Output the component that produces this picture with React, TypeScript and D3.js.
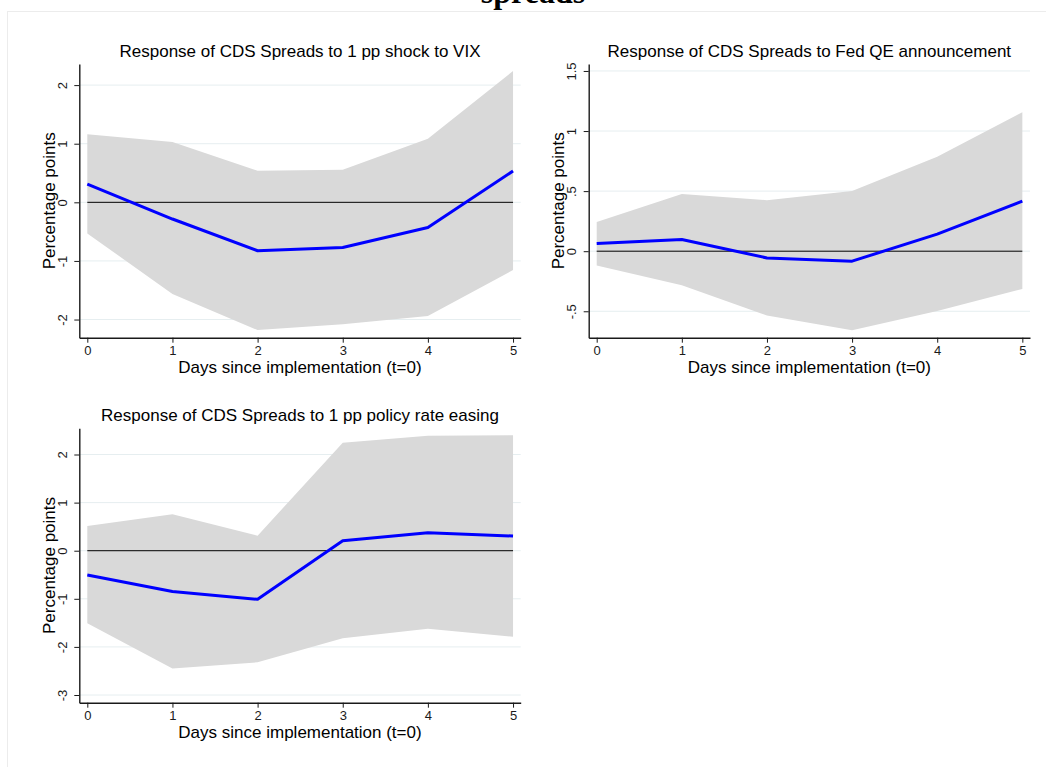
import React, { useEffect, useRef } from 'react';
import * as d3 from 'd3';

// horizon (days since implementation)
const days = [0, 1, 2, 3, 4, 5];

// response to 1 pp VIX shock
const vixIrf = [0.31, -0.285, -0.826, -0.77, -0.43, 0.534];
const vixUpper = [1.16, 1.03, 0.54, 0.556, 1.085, 2.24];
const vixLower = [-0.53, -1.565, -2.18, -2.08, -1.94, -1.155];
const vixTicks = [-2, -1, 0, 1, 2];

// response to Fed QE announcement
const qeIrf = [0.064, 0.097, -0.056, -0.083, 0.142, 0.417];
const qeUpper = [0.242, 0.475, 0.425, 0.5, 0.786, 1.156];
const qeLower = [-0.12, -0.283, -0.536, -0.658, -0.497, -0.314];
const qeTicks = [-0.5, 0, 0.5, 1, 1.5];

// response to 1 pp policy rate easing
const rateIrf = [-0.505, -0.85, -1.01, 0.208, 0.374, 0.305];
const rateUpper = [0.513, 0.757, 0.312, 2.245, 2.39, 2.4];
const rateLower = [-1.51, -2.45, -2.32, -1.82, -1.62, -1.79];
const rateTicks = [-3, -2, -1, 0, 1, 2];

const titles = [
  'Response of CDS Spreads to 1 pp shock to VIX',
  'Response of CDS Spreads to Fed QE announcement',
  'Response of CDS Spreads to 1 pp policy rate easing',
];
const xTitle = 'Days since implementation (t=0)';
const yTitle = 'Percentage points';

const FONT = '"Liberation Sans", Arial, sans-serif';

// layout of each panel (axis extents in pixels) + y range of the plot region
const panels = [
  { left: 79.3, right: 520.7, top: 64, bottom: 337.7, yDomain: [-2.31, 2.36], irf: vixIrf, up: vixUpper, lo: vixLower, ticks: vixTicks },
  { left: 588.7, right: 1030, top: 64, bottom: 337.7, yDomain: [-0.72, 1.558], irf: qeIrf, up: qeUpper, lo: qeLower, ticks: qeTicks },
  { left: 79.3, right: 520.7, top: 428.3, bottom: 702.7, yDomain: [-3.16, 2.545], irf: rateIrf, up: rateUpper, lo: rateLower, ticks: rateTicks },
];

const fmt = (d: number) => String(d).replace(/^(-?)0\./, '$1.');

export default function App() {
  const ref = useRef<SVGSVGElement>(null);

  useEffect(() => {
    const svg = d3.select(ref.current);
    svg.selectAll('*').remove();

    svg.append('rect').attr('width', 1046).attr('height', 767).attr('fill', '#fff');
    svg.append('rect')
      .attr('x', 7.5).attr('y', 11.5).attr('width', 1100).attr('height', 800)
      .attr('fill', 'none').attr('stroke', '#ececec');

    // clipped figure title (only the bottom of the last line is visible)
    svg.append('text')
      .attr('x', 533).attr('y', 3)
      .attr('text-anchor', 'middle')
      .style('font-family', '"Liberation Serif", "Times New Roman", serif')
      .style('font-weight', 'bold')
      .style('font-size', '32px')
      .text('spreads');

    panels.forEach((p, i) => {
      const x = d3.scaleLinear().domain([-0.094, 5.09]).range([p.left, p.right]);
      const y = d3.scaleLinear().domain(p.yDomain).range([p.bottom, p.top]);
      const g = svg.append('g');

      g.selectAll('.grid')
        .data(p.ticks)
        .join('line')
        .attr('x1', p.left).attr('x2', p.right)
        .attr('y1', d => y(d)).attr('y2', d => y(d))
        .attr('stroke', '#e6eef0').attr('stroke-width', 1);

      const area = d3.area<number>()
        .x((d, j) => x(days[j]))
        .y0((d, j) => y(p.lo[j]))
        .y1((d, j) => y(p.up[j]));
      g.append('path').datum(p.irf).attr('d', area).attr('fill', '#d9d9d9');

      g.append('line')
        .attr('x1', x(days[0])).attr('x2', x(days[days.length - 1]))
        .attr('y1', y(0)).attr('y2', y(0))
        .attr('stroke', '#000').attr('stroke-width', 1);

      const line = d3.line<number>().x((d, j) => x(days[j])).y(d => y(d));
      g.append('path').datum(p.irf).attr('d', line)
        .attr('fill', 'none').attr('stroke', '#0000ff').attr('stroke-width', 3)
        .attr('stroke-linejoin', 'round');

      const xAxis = g.append('g')
        .attr('transform', `translate(0, ${p.bottom})`)
        .call(d3.axisBottom(x).tickValues(days).tickSize(5).tickSizeOuter(0).tickPadding(3).tickFormat(d => String(d)));
      xAxis.attr('font-family', FONT).attr('font-size', 13).style('color', '#1a1a1a');
      xAxis.select('.domain').attr('stroke-width', 1.4);

      const yAxis = g.append('g')
        .attr('transform', `translate(${p.left}, 0)`)
        .call(d3.axisLeft(y).tickValues(p.ticks).tickSize(5).tickSizeOuter(0).tickFormat(d => fmt(d as number)));
      yAxis.attr('font-family', FONT).attr('font-size', 13).style('color', '#1a1a1a');
      yAxis.select('.domain').attr('stroke-width', 1.4);
      yAxis.selectAll('.tick text')
        .attr('x', null).attr('dy', null)
        .attr('text-anchor', 'middle')
        .attr('transform', 'translate(-12.7, 0) rotate(-90)');

      const cx = (p.left + p.right) / 2;
      g.append('text')
        .attr('x', cx).attr('y', p.top - 7)
        .attr('text-anchor', 'middle')
        .style('font-family', FONT).style('font-size', '17px')
        .text(titles[i]);

      g.append('text')
        .attr('x', cx).attr('y', p.bottom + 35.5)
        .attr('text-anchor', 'middle')
        .style('font-family', FONT).style('font-size', '17px')
        .text(xTitle);

      g.append('text')
        .attr('transform', `translate(${p.left - 24.5}, ${(p.top + p.bottom) / 2}) rotate(-90)`)
        .attr('text-anchor', 'middle')
        .style('font-family', FONT).style('font-size', '17px')
        .text(yTitle);
    });
  }, []);

  return (
    <svg
      ref={ref}
      width={1046}
      height={767}
      style={{ position: 'absolute', left: 0, top: 0 }}
    />
  );
}
